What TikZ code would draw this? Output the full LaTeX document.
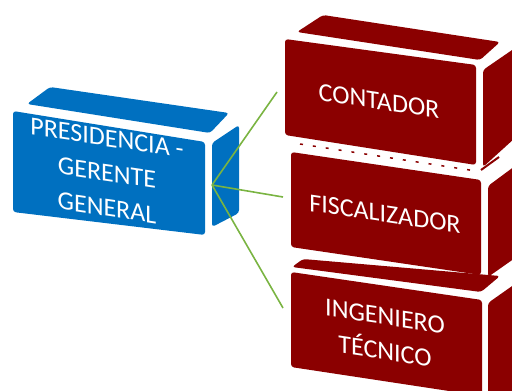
\documentclass[tikz,border=0pt]{standalone}
\usepackage{fontspec}
\setmainfont{Carlito}
\definecolor{boxblue}{RGB}{0,112,192}
\definecolor{boxred}{RGB}{139,0,0}
\definecolor{linkgreen}{RGB}{122,180,66}
\begin{document}
\begin{tikzpicture}[x=0.5pt,y=-0.5pt,
  bface/.style={fill=boxblue, rounded corners=1.5pt},
  rface/.style={fill=boxred, rounded corners=1.5pt},
  lbl/.style={text=white, font=\fontsize{13}{17.5}\selectfont, align=center, yslant=-0.15, inner sep=0pt},
  link/.style={draw=linkgreen, line width=0.8pt}]
\useasboundingbox (0,0) rectangle (512,390);
\begin{scope}
\clip (0,0) rectangle (512,390);
% Ingeniero tecnico
\fill[rface] (292,267) -- (303,259) -- (500,276) -- (481,292) -- cycle;
\fill[rface] (291,272) -- (482,300) -- (482,396) -- (291,367) -- cycle;
\fill[rface] (488,303) -- (515,284) -- (515,400) -- (488,400) -- cycle;
% Fiscalizador
\draw[boxred, line width=0.75pt, dash pattern=on 1.5pt off 5pt] (300,144) -- (476,171);
\draw[boxred, line width=1pt] (481,170) -- (499,157);
\fill[rface] (291,152) -- (481,180) -- (481,275) -- (291,247) -- cycle;
\fill[rface] (488,186) -- (515,166) -- (515,258) -- (488,277) -- cycle;
% Contador
\fill[rface] (297,32) -- (323,15) -- (500,42) -- (480,60) -- cycle;
\fill[rface] (285,39) -- (476,65) -- (476,165) -- (285,135) -- cycle;
\fill[rface] (483,70) -- (515,48) -- (515,138) -- (483,167) -- cycle;
% Presidencia
\fill[bface] (27,104) -- (50,87) -- (229,113) -- (210,133) -- cycle;
\fill[bface] (13,111) -- (205,142) -- (205,235) -- (13,212) -- cycle;
\fill[bface] (212,143) -- (239,125) -- (239,213) -- (212,227) -- cycle;
\end{scope}
\node[lbl] (pres) at (107,173) {PRESIDENCIA -\\GERENTE\\GENERAL};
\node[lbl] (cont) at (379,101) {CONTADOR};
\node[lbl] (fisc) at (385,214) {FISCALIZADOR};
\node[lbl] (inge) at (385,334) {INGENIERO\\TÉCNICO};
\coordinate (hub) at (212,185);
\coordinate (endC) at (277,92);
\coordinate (endF) at (283,197);
\coordinate (endI) at (283,308);
\draw[link] (hub) -- (endC);
\draw[link] (hub) -- (endF);
\draw[link] (hub) -- (endI);
\end{tikzpicture}
\end{document}
